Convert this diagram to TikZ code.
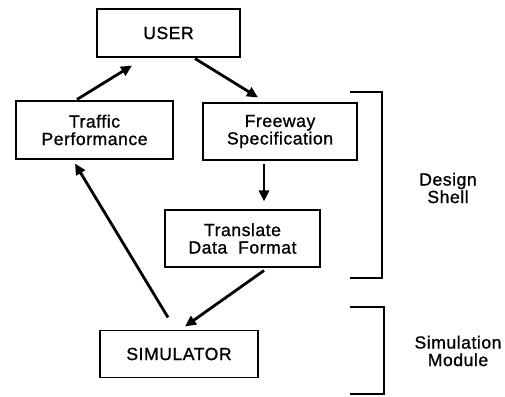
\documentclass[tikz,border=0pt]{standalone}
\usepackage{fontspec}
\setmainfont{Liberation Sans}
\newfontfamily\medfont{Liberation Sans}[FakeBold=1,LetterSpace=3]
\usetikzlibrary{arrows.meta}
\begin{document}
\begin{tikzpicture}[x=1pt,y=1pt,
  box/.style={draw,line width=1.1pt,inner sep=0pt,align=center,
    font=\medfont\fontsize{17.6}{17.5}\selectfont},
  arr/.style={line width=2.8pt,-{Triangle[length=11pt,width=10pt]}},
  brk/.style={line width=1.2pt},
  lbl/.style={align=center,font=\medfont\fontsize{17.6}{17.5}\selectfont}]
\useasboundingbox (0,0) rectangle (505,396);
% boxes
\node[box,minimum width=143pt,minimum height=48pt] (user) at (168.5,363) {USER};
\node[box,minimum width=157pt,minimum height=58pt] (trf) at (94.5,266) {Traffic\\Performance};
\node[box,minimum width=154pt,minimum height=57pt] (fwy) at (280,264.5) {Freeway\\Specification};
\node[box,minimum width=155pt,minimum height=57pt] (tdf) at (242.5,157.5) {Translate\\Data\ \ Format};
\node[box,minimum width=158pt,minimum height=47pt] (sim) at (179,42) {SIMULATOR};
% connectors
\draw[arr] ([xshift=-17.5pt,yshift=1pt]trf.north) -- ([xshift=-36.5pt,yshift=-8pt]user.south);
\draw[arr] ([xshift=26.5pt,yshift=-1pt]user.south) -- ([xshift=-22pt,yshift=5pt]fwy.north);
\draw[arr] ([xshift=-16pt,yshift=-3pt]fwy.south) -- ([xshift=21.5pt,yshift=8pt]tdf.north);
\draw[arr] ([xshift=21.5pt,yshift=-3pt]tdf.south) -- ([xshift=6pt,yshift=3.5pt]sim.north);
\draw[arr] ([xshift=-11pt,yshift=12.5pt]sim.north) -- ([xshift=-19.5pt,yshift=-4pt]trf.south);
% brackets
\coordinate (ds1) at (350,304); \coordinate (ds2) at (382,304);
\coordinate (ds3) at (382,118); \coordinate (ds4) at (350,118);
\draw[brk] (ds1) -- (ds2) -- (ds3) -- (ds4);
\coordinate (sm1) at (350,89); \coordinate (sm2) at (384,89);
\coordinate (sm3) at (384,2); \coordinate (sm4) at (350,2);
\draw[brk] (sm1) -- (sm2) -- (sm3) -- (sm4);
\node[lbl] (ds) at (448,208) {Design\\Shell};
\node[lbl] (sm) at (458,45) {Simulation\\Module};
\end{tikzpicture}
\end{document}
